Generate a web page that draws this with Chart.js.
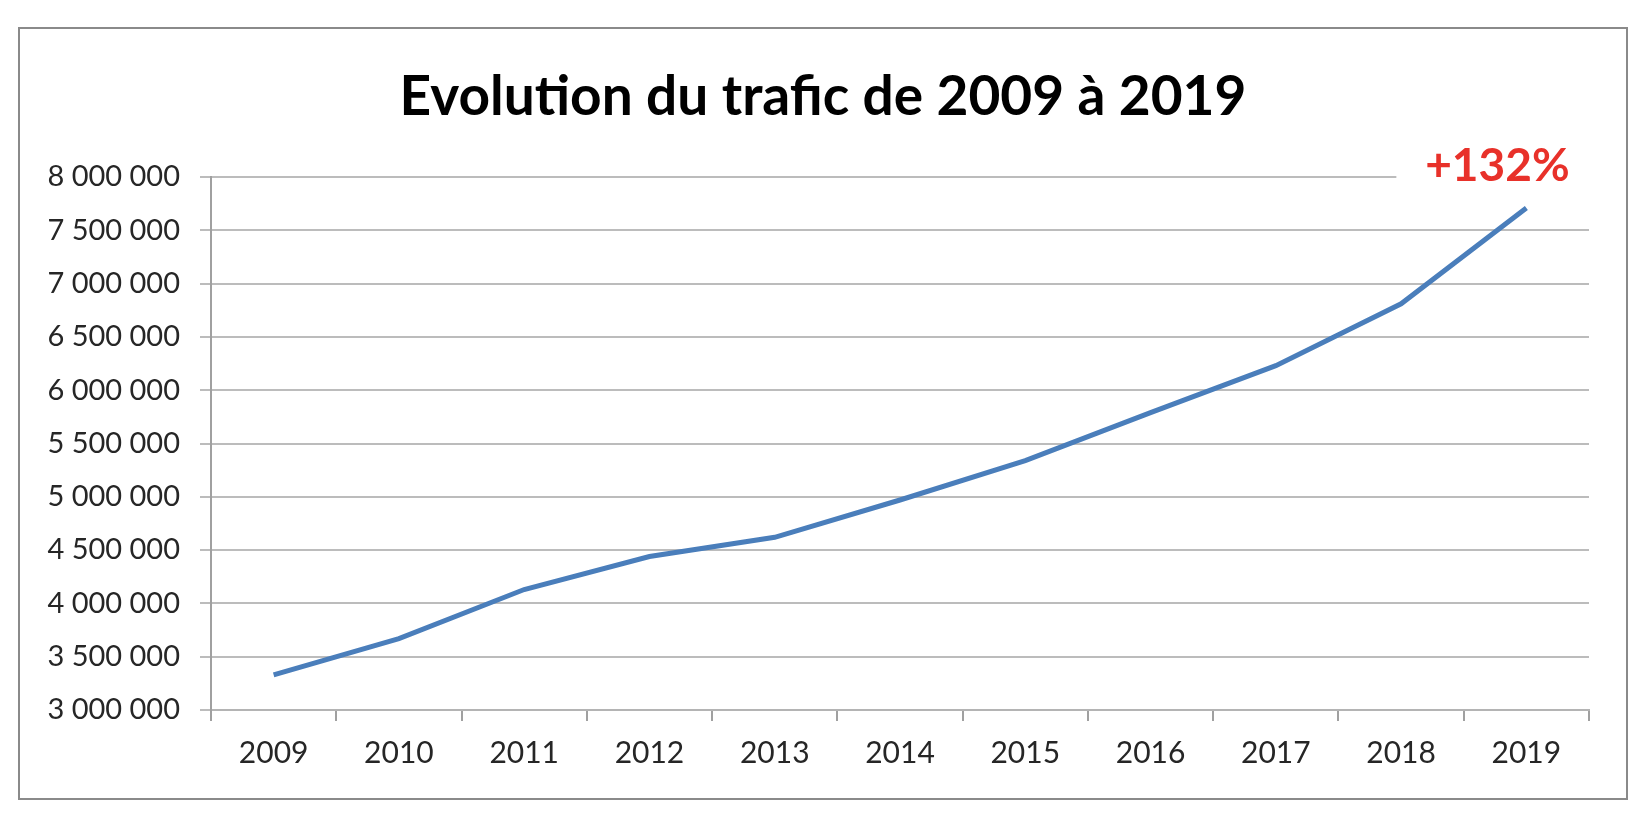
<!DOCTYPE html>
<html>
<head>
<meta charset="utf-8">
<script src="https://cdn.jsdelivr.net/npm/chart.js@4/dist/chart.umd.min.js"></script>
<style>
  html, body { margin: 0; padding: 0; background: #ffffff; }
  #wrap { width: 1644px; height: 828px; }
</style>
</head>
<body>
<div id="wrap"><canvas id="c" width="1644" height="828"></canvas></div>
<script>
const years = ['2009', '2010', '2011', '2012', '2013', '2014', '2015', '2016', '2017', '2018', '2019'];
const traffic = [3330000, 3670000, 4130000, 4440000, 4620000, 4970000, 5340000, 5790000, 6230000, 6810000, 7710000];
const yMin = 3000000;
const yMax = 8000000;
const yStep = 500000;
const titleText = 'Evolution du trafic de 2009 à 2019';
const growthLabel = '+132%';

function fmt(v) {
  return String(Math.round(v)).replace(/\B(?=(\d{3})+(?!\d))/g, ' ');
}

const frame = {
  id: 'frame',
  beforeDraw(chart) {
    const ctx = chart.ctx;
    ctx.save();
    ctx.fillStyle = '#ffffff';
    ctx.fillRect(0, 0, chart.width, chart.height);
    ctx.strokeStyle = '#8a8a8a';
    ctx.lineWidth = 2;
    ctx.strokeRect(19, 28, 1608, 771);
    ctx.fillStyle = '#000000';
    ctx.font = 'bold 55px Lato';
    ctx.textAlign = 'center';
    ctx.textBaseline = 'middle';
    ctx.fillText(titleText, 823, 97);
    ctx.restore();
  },
  beforeDatasetsDraw(chart) {
    const ctx = chart.ctx;
    const ys = chart.scales.y;
    const xs = chart.scales.x;
    const last = years.length - 1;
    const px = xs.getPixelForValue(last);
    const top = ys.getPixelForValue(yMax);
    ctx.save();
    ctx.fillStyle = '#ffffff';
    ctx.fillRect(px - 130, top - 14, 200, 28);
    ctx.fillStyle = '#e8312a';
    ctx.font = 'bold 46px Lato';
    ctx.textAlign = 'center';
    ctx.textBaseline = 'middle';
    ctx.fillText(growthLabel, px - 29, top - 11);
    ctx.restore();
  }
};

new Chart(document.getElementById('c'), {
  type: 'line',
  data: {
    labels: years,
    datasets: [{
      data: traffic,
      borderColor: '#4a7ebb',
      borderWidth: 5,
      pointRadius: 0,
      tension: 0,
      fill: false
    }]
  },
  options: {
    responsive: false,
    animation: false,
    devicePixelRatio: 1,
    layout: { padding: { top: 177, right: 55, bottom: 0, left: 0 } },
    plugins: { legend: { display: false }, title: { display: false }, tooltip: { enabled: false } },
    scales: {
      x: {
        offset: true,
        grid: { offset: true, drawOnChartArea: false, drawTicks: true, tickLength: 11, color: '#a0a0a0', lineWidth: 2 },
        border: { display: true, color: '#b4b4b4', width: 2 },
        ticks: { color: '#262626', font: { family: 'Lato', size: 30 }, padding: 14, maxRotation: 0, autoSkip: false },
        afterFit(s) { s.height = 118; }
      },
      y: {
        min: yMin,
        max: yMax,
        grid: { color: '#bcbcbc', lineWidth: 2, tickLength: 11 },
        border: { display: true, color: '#a0a0a0', width: 2 },
        ticks: { stepSize: yStep, color: '#262626', font: { family: 'Lato', size: 29 }, padding: 20, callback: (v) => fmt(v) },
        afterFit(s) { s.width = 211; }
      }
    }
  },
  plugins: [frame]
});
</script>
</body>
</html>
